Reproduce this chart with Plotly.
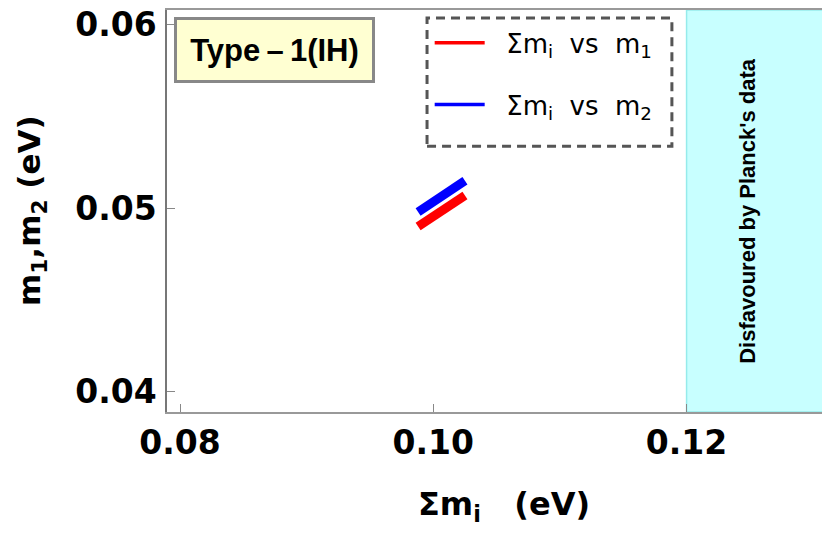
import plotly.graph_objects as go

# values
sum_mi = [0.0988, 0.0997, 0.1006, 0.1015, 0.1025]
m1_vals = [0.0490, 0.0494, 0.0498, 0.0503, 0.0507]
m2_vals = [0.0498, 0.0502, 0.0507, 0.0511, 0.0515]

x_ticks = [0.08, 0.10, 0.12]
y_ticks = [0.04, 0.05, 0.06]
x_range = [0.07897, 0.13109]
y_range = [0.03889, 0.06081]
planck_limit = 0.12

nb = '\u00a0'
series_names = [nb * 2 + 'Σm<sub>i</sub>' + nb * 2 + 'vs' + nb * 2 + 'm<sub>1</sub>',
                nb * 2 + 'Σm<sub>i</sub>' + nb * 2 + 'vs' + nb * 2 + 'm<sub>2</sub>']
series_colors = ['#ff0000', '#0000ff']

fig = go.Figure()

for name, vals, col, grp in zip(series_names, [m1_vals, m2_vals], series_colors, ['g1', 'g2']):
    # thick band
    fig.add_trace(go.Scatter(x=sum_mi, y=vals, mode='lines',
                             line=dict(color=col, width=9),
                             legendgroup=grp, showlegend=False, hoverinfo='skip'))
    # legend entry
    fig.add_trace(go.Scatter(x=[None], y=[None], mode='lines', name=name,
                             line=dict(color=col, width=3.5), legendgroup=grp))

bold_dv = dict(family='DejaVu Sans', size=33, color='black', weight='bold')

# page has an 8px body margin, so the figure is made 8px smaller and shifted
fig.update_layout(
    width=822, height=526,
    margin=dict(l=159, r=3, t=0, b=122),
    plot_bgcolor='white', paper_bgcolor='white',
    xaxis=dict(range=x_range, tickvals=x_ticks, tickformat='.2f',
               ticks='inside', ticklen=8, tickcolor='#888888', tickwidth=1,
               showline=True, mirror=True, linecolor='#999999', linewidth=2,
               showgrid=False, zeroline=False, tickfont=bold_dv,
               ticklabelstandoff=0, ticklabeloverflow='allow'),
    yaxis=dict(range=y_range, tickvals=y_ticks, tickformat='.2f',
               ticks='inside', ticklen=8, tickcolor='#888888', tickwidth=1,
               showline=True, mirror=True, linecolor='#777777', linewidth=1.5,
               showgrid=False, zeroline=False, tickfont=bold_dv,
               ticklabelstandoff=2, ticklabeloverflow='allow', automargin=False),
    showlegend=True,
    legend=dict(x=0.398, y=0.977, xanchor='left', yanchor='top',
                bgcolor='rgba(0,0,0,0)', borderwidth=0,
                traceorder='grouped', tracegroupgap=25, itemwidth=50,
                font=dict(family='DejaVu Sans', size=26, color='black')),
    shapes=[
        # region excluded by Planck
        dict(type='rect', xref='x', yref='paper', x0=planck_limit, x1=x_range[1],
             y0=0, y1=1, fillcolor='rgb(200,255,255)',
             line=dict(color='rgb(150,235,235)', width=1.5), layer='below'),
        # dashed legend frame
        dict(type='rect', xref='paper', yref='paper', x0=0.394, x1=0.765,
             y0=0.661, y1=0.980, line=dict(color='#555555', width=3, dash='9px,6px')),
    ],
    annotations=[
        dict(text='Type\u2009\u2013\u20091(IH)', xref='paper', yref='paper', x=0.163, y=0.901,
             xanchor='center', yanchor='middle',
             showarrow=False, bgcolor='#ffffd2', bordercolor='#888888', borderwidth=3,
             borderpad=0, width=195, height=60,
             font=dict(family='Liberation Sans', size=31, color='black', weight='bold')),
        dict(text="Disfavoured by Planck's data", xref='x', yref='y', x=0.1248, y=0.04988,
             xanchor='center', yanchor='middle',
             textangle=-90, showarrow=False,
             font=dict(family='Liberation Sans', size=22, color='black', weight='bold')),
        dict(text='Σm<sub>i</sub>' + nb * 3 + '(eV)', xref='paper', yref='paper', x=0.5106, y=-0.235,
             showarrow=False, xanchor='center', yanchor='middle',
             font=dict(family='DejaVu Sans', size=32, color='black', weight='bold')),
        dict(text='m<sub>1</sub>,m<sub>2</sub> (eV)', xref='paper', yref='paper', x=-0.206, y=0.5,
             xanchor='center', yanchor='middle',
             textangle=-90, showarrow=False,
             font=dict(family='DejaVu Sans', size=31, color='black', weight='bold')),
    ],
)

fig.write_html("out.html")
